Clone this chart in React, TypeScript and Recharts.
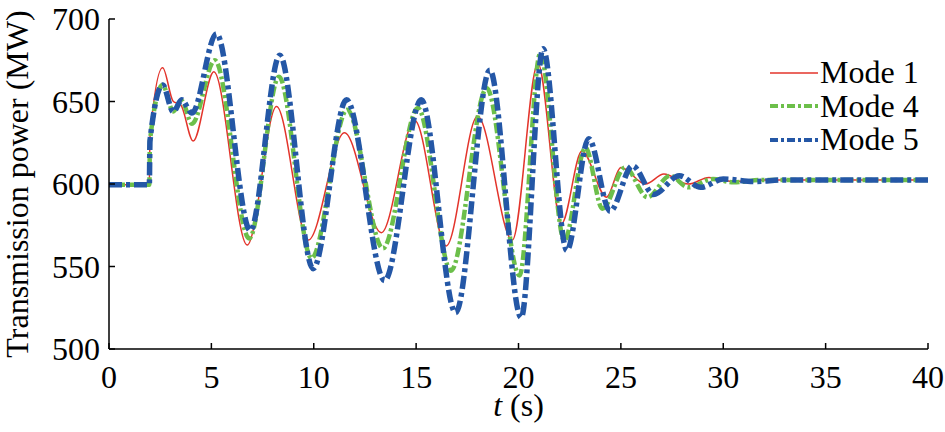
import { LineChart, Line, XAxis, YAxis, Legend } from "recharts";

// time (s) / power (MW) at turning points
const mode1Time = [0, 1.97, 2.0, 2.62, 3.14, 3.5, 4.11, 5.12, 6.75, 8.18, 9.73, 11.5, 13.3, 14.93, 16.47, 18.0, 19.7, 20.95, 22.1, 23.1, 24.3, 25.0, 26.2, 27.1, 28.3, 29.3, 30.5, 32, 40];
const mode1Power = [599.5, 599.5, 628, 670.5, 650, 648, 626, 668, 563, 647, 566, 631, 570.5, 638.5, 562.5, 641, 566, 673, 576, 620, 592, 610, 600, 606, 600, 604, 601.5, 602.5, 602.5];

const mode4Time = [0, 1.97, 2.0, 2.62, 3.14, 3.55, 4.05, 5.17, 6.85, 8.3, 9.89, 11.63, 13.38, 15.09, 16.7, 18.45, 20.05, 21.06, 22.24, 23.27, 24.1, 25.2, 26.3, 27.4, 28.3, 29.5, 30.5, 32, 40];
const mode4Power = [599.5, 599.5, 626, 660, 644, 650.5, 636.5, 675, 567, 665, 555, 645, 561, 646, 547.5, 658, 544.5, 679, 565.7, 622, 585, 610, 592, 605, 598, 603, 601, 602.5, 602.5];

const mode5Time = [0, 1.97, 2.0, 2.62, 3.14, 3.55, 4.05, 5.25, 6.9, 8.34, 9.97, 11.6, 13.46, 15.25, 16.93, 18.6, 20.13, 21.2, 22.36, 23.43, 24.47, 25.57, 26.6, 27.85, 28.9, 30, 31.5, 33, 40];
const mode5Power = [599.5, 599.5, 626, 660, 643.7, 651, 643, 691, 571.8, 678, 548.7, 651, 541.5, 651, 522, 669, 519, 682, 559.7, 627.5, 583.5, 611, 593.7, 605, 598, 603, 601.5, 602.5, 602.5];

const xTicks = [0, 5, 10, 15, 20, 25, 30, 35, 40];
const yTicks = [500, 550, 600, 650, 700];

const serif = '"Liberation Serif", "Times New Roman", Times, serif';

const toPoints = (ts: number[], ps: number[]) => ts.map((t, i) => ({ t, p: ps[i] }));

const series = [
  { name: "Mode 1", data: toPoints(mode1Time, mode1Power), color: "#e3342b", width: 1.5, dash: undefined, legendWidth: 1.5, legendDash: undefined },
  { name: "Mode 4", data: toPoints(mode4Time, mode4Power), color: "#6cbf4a", width: 4.5, dash: "10 3 3 3", legendWidth: 4, legendDash: "8 3 3 3" },
  { name: "Mode 5", data: toPoints(mode5Time, mode5Power), color: "#2457a6", width: 5.5, dash: "13 4 4 4", legendWidth: 4, legendDash: "8 3 3 3" },
];

const renderLegend = () => (
  <div style={{ fontFamily: serif, fontSize: 32, color: "#000" }}>
    {series.map((s) => (
      <div key={s.name} style={{ display: "flex", alignItems: "center", height: 33.5, lineHeight: "33.5px" }}>
        <svg width={48} height={10} style={{ display: "block" }}>
          <line x1={0} y1={5} x2={48} y2={5} stroke={s.color} strokeWidth={s.legendWidth} strokeDasharray={s.legendDash} />
        </svg>
        <span style={{ marginLeft: 2, whiteSpace: "nowrap" }}>{s.name}</span>
      </div>
    ))}
  </div>
);

const XLabel = (props: any) => {
  const vb = props.viewBox;
  return (
    <text x={vb.x + vb.width / 2} y={vb.y + 67} textAnchor="middle" fill="#000" fontSize={32} fontFamily={serif}>
      <tspan fontStyle="italic">t</tspan>
      <tspan> (s)</tspan>
    </text>
  );
};

const YLabel = (props: any) => {
  const vb = props.viewBox;
  const cx = vb.x + 28;
  const cy = vb.y + vb.height / 2;
  return (
    <text x={cx} y={cy} transform={`rotate(-90, ${cx}, ${cy})`} textAnchor="middle" fill="#000" fontSize={32} fontFamily={serif}>
      Transmission power (MW)
    </text>
  );
};

export default function App() {
  return (
    <div style={{ position: "absolute", left: 0, top: 0, background: "#fff" }}>
      <LineChart width={945} height={432} margin={{ top: 19, right: 17, bottom: 0, left: 0 }}>
        <XAxis
          type="number"
          dataKey="t"
          domain={[0, 40]}
          ticks={xTicks}
          height={83}
          tickSize={-6}
          tickMargin={22}
          axisLine={{ stroke: "#000", strokeWidth: 1.5 }}
          tickLine={{ stroke: "#000", strokeWidth: 1.5 }}
          tick={{ fill: "#000", fontSize: 32, fontFamily: serif }}
          label={{ content: XLabel }}
        />
        <YAxis
          type="number"
          domain={[500, 700]}
          ticks={yTicks}
          width={109}
          tickSize={-6}
          tickMargin={15}
          allowDataOverflow
          axisLine={{ stroke: "#000", strokeWidth: 1.5 }}
          tickLine={{ stroke: "#000", strokeWidth: 1.5 }}
          tick={{ fill: "#000", fontSize: 32, fontFamily: serif }}
          label={{ content: YLabel }}
        />
        <Legend
          layout="horizontal"
          verticalAlign="middle"
          align="center"
          content={renderLegend}
          wrapperStyle={{ left: 770, top: 56, width: 170, height: 101 }}
        />
        {series.map((s) => (
          <Line
            key={s.name}
            name={s.name}
            data={s.data}
            dataKey="p"
            type="monotone"
            stroke={s.color}
            strokeWidth={s.width}
            strokeDasharray={s.dash}
            dot={false}
            activeDot={false}
            isAnimationActive={false}
          />
        ))}
      </LineChart>
    </div>
  );
}
